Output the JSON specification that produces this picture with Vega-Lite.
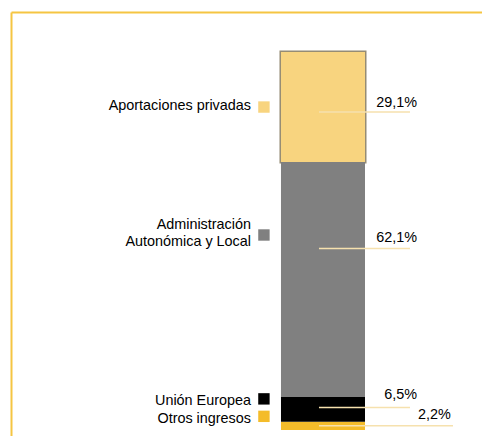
{
  "$schema": "https://vega.github.io/schema/vega-lite/v6.json",
  "width": 471,
  "height": 424,
  "autosize": {"type": "none"},
  "padding": {"left": 11, "top": 12, "right": 0, "bottom": 0},
  "background": "white",
  "config": {"view": {"stroke": null}, "font": "Liberation Sans"},
  "data": {"values": [
    {"cat": "Otros ingresos", "pct": 2.2, "orden": 1},
    {"cat": "Unión Europea", "pct": 6.5, "orden": 2},
    {"cat": "Administración Autonómica y Local", "pct": 62.1, "orden": 3},
    {"cat": "Aportaciones privadas", "pct": 29.1, "orden": 4}
  ]},
  "transform": [
    {"stack": "pct", "groupby": [], "sort": [{"field": "orden", "order": "ascending"}], "as": ["y0", "y1"]},
    {"calculate": "(datum.y0 + datum.y1) / 2", "as": "mid"},
    {"calculate": "replace(format(datum.pct, '.1f'), '.', ',') + '%'", "as": "etiqueta"},
    {"calculate": "datum.cat === 'Administración Autonómica y Local' ? ['Administración', 'Autonómica y Local'] : datum.cat", "as": "rotulo"}
  ],
  "encoding": {
    "y": {"field": "mid", "type": "quantitative", "scale": {"domain": [-1.586, 110.47], "nice": false, "zero": false},
      "axis": {"orient": "left", "domainColor": "#F5C542", "domainWidth": 2, "ticks": false, "labels": false, "grid": false, "title": null}}
  },
  "layer": [
    {
      "transform": [{"filter": "datum.cat === 'Aportaciones privadas'"}],
      "mark": {"type": "rect", "stroke": "#958c74", "strokeWidth": 3, "fill": "#958c74"},
      "encoding": {
        "x": {"datum": 57.32, "type": "quantitative", "scale": {"domain": [0, 100], "nice": false, "zero": false},
          "axis": {"orient": "top", "domainColor": "#F5C542", "domainWidth": 2, "ticks": false, "labels": false, "grid": false, "title": null}},
        "x2": {"datum": 75.16},
        "y": {"field": "y0", "type": "quantitative"},
        "y2": {"field": "y1"}
      }
    },
    {
      "mark": {"type": "rect", "strokeWidth": 0},
      "encoding": {
        "x": {"datum": 57.32, "type": "quantitative"},
        "x2": {"datum": 75.16},
        "y": {"field": "y0", "type": "quantitative"},
        "y2": {"field": "y1"},
        "color": {"field": "cat", "type": "nominal", "legend": null,
          "scale": {"domain": ["Aportaciones privadas", "Administración Autonómica y Local", "Unión Europea", "Otros ingresos"],
                    "range": ["#F8D47F", "#808080", "#000000", "#F4BC2A"]}}
      }
    },
    {
      "transform": [{"filter": "datum.cat === 'Aportaciones privadas'"}],
      "layer": [
        {"mark": {"type": "rule", "color": "#F6E1AE", "strokeWidth": 1.5, "yOffset": 5},
         "encoding": {"x": {"datum": 65.39, "type": "quantitative"}, "x2": {"datum": 84.71}}},
        {"mark": {"type": "text", "align": "right", "baseline": "alphabetic", "fontSize": 14.4, "color": "#000000", "yOffset": 0},
         "encoding": {"x": {"datum": 86.2, "type": "quantitative"}, "text": {"field": "etiqueta"}}},
        {"mark": {"type": "text", "align": "right", "baseline": "middle", "fontSize": 14.4, "color": "#000000", "yOffset": -1.5},
         "encoding": {"x": {"datum": 50.96, "type": "quantitative"}, "text": {"field": "rotulo"}}},
        {"mark": {"type": "square", "filled": true, "opacity": 1, "size": 130, "yOffset": 0},
         "encoding": {"x": {"datum": 53.7, "type": "quantitative"}, "color": {"field": "cat", "type": "nominal", "legend": null}}}
      ]
    },
    {
      "transform": [{"filter": "datum.cat === 'Administración Autonómica y Local'"}],
      "layer": [
        {"mark": {"type": "rule", "color": "#F6E1AE", "strokeWidth": 1.5, "yOffset": -31},
         "encoding": {"x": {"datum": 65.39, "type": "quantitative"}, "x2": {"datum": 84.71}}},
        {"mark": {"type": "text", "align": "right", "baseline": "alphabetic", "fontSize": 14.4, "color": "#000000", "yOffset": -37.6},
         "encoding": {"x": {"datum": 86.2, "type": "quantitative"}, "text": {"field": "etiqueta"}}},
        {"mark": {"type": "text", "align": "right", "baseline": "middle", "fontSize": 14.4, "lineHeight": 16.5, "color": "#000000", "yOffset": -54.5},
         "encoding": {"x": {"datum": 50.96, "type": "quantitative"}, "text": {"field": "rotulo"}}},
        {"mark": {"type": "square", "filled": true, "opacity": 1, "size": 130, "yOffset": -44.6},
         "encoding": {"x": {"datum": 53.7, "type": "quantitative"}, "color": {"field": "cat", "type": "nominal", "legend": null}}}
      ]
    },
    {
      "transform": [{"filter": "datum.cat === 'Unión Europea'"}],
      "layer": [
        {"mark": {"type": "rule", "color": "#F6E1AE", "strokeWidth": 1.5, "yOffset": -2},
         "encoding": {"x": {"datum": 65.39, "type": "quantitative"}, "x2": {"datum": 84.71}}},
        {"mark": {"type": "text", "align": "right", "baseline": "alphabetic", "fontSize": 14.4, "color": "#000000", "yOffset": -10.5},
         "encoding": {"x": {"datum": 86.2, "type": "quantitative"}, "text": {"field": "etiqueta"}}},
        {"mark": {"type": "text", "align": "right", "baseline": "middle", "fontSize": 14.4, "color": "#000000", "yOffset": -8},
         "encoding": {"x": {"datum": 50.96, "type": "quantitative"}, "text": {"field": "rotulo"}}},
        {"mark": {"type": "square", "filled": true, "opacity": 1, "size": 130, "yOffset": -10.5},
         "encoding": {"x": {"datum": 53.7, "type": "quantitative"}, "color": {"field": "cat", "type": "nominal", "legend": null}}}
      ]
    },
    {
      "transform": [{"filter": "datum.cat === 'Otros ingresos'"}],
      "layer": [
        {"mark": {"type": "rule", "color": "#F6E1AE", "strokeWidth": 1.5, "yOffset": 0},
         "encoding": {"x": {"datum": 65.39, "type": "quantitative"}, "x2": {"datum": 93.84}}},
        {"mark": {"type": "text", "align": "right", "baseline": "alphabetic", "fontSize": 14.4, "color": "#000000", "yOffset": -6.5},
         "encoding": {"x": {"datum": 93.4, "type": "quantitative"}, "text": {"field": "etiqueta"}}},
        {"mark": {"type": "text", "align": "right", "baseline": "middle", "fontSize": 14.4, "color": "#000000", "yOffset": -7},
         "encoding": {"x": {"datum": 50.96, "type": "quantitative"}, "text": {"field": "rotulo"}}},
        {"mark": {"type": "square", "filled": true, "opacity": 1, "size": 130, "yOffset": -9.5},
         "encoding": {"x": {"datum": 53.7, "type": "quantitative"}, "color": {"field": "cat", "type": "nominal", "legend": null}}}
      ]
    }
  ]
}
